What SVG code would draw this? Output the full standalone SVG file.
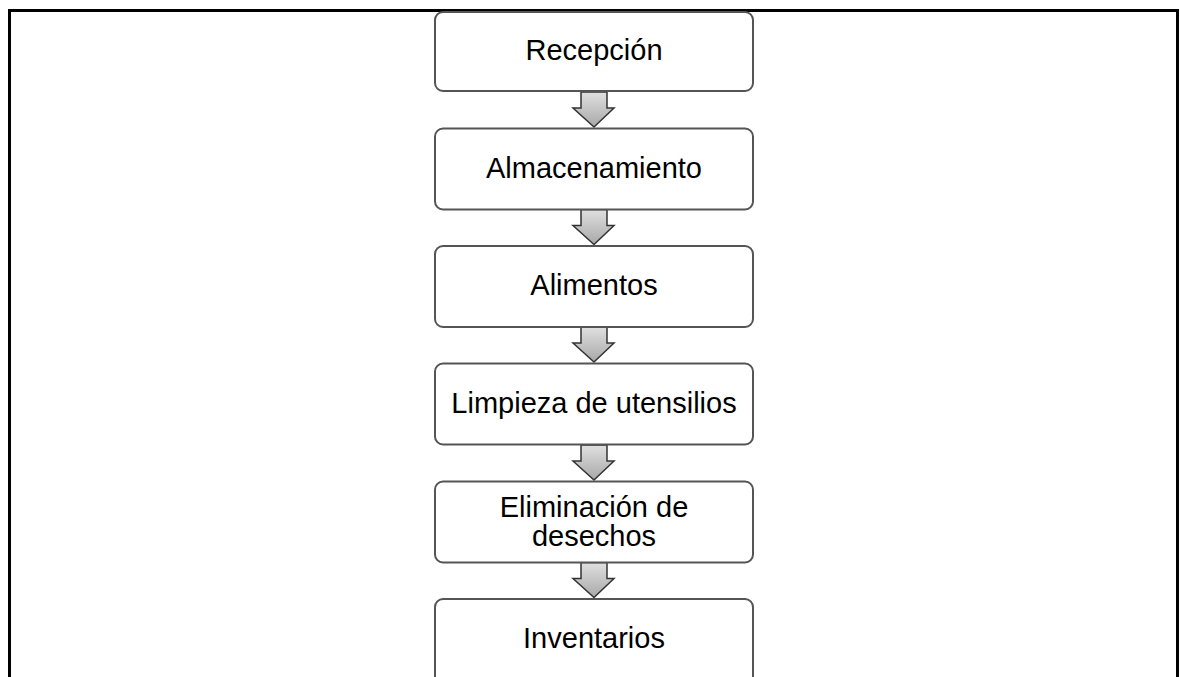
<svg xmlns="http://www.w3.org/2000/svg" width="1180" height="677" viewBox="0 0 1180 677">
<style>
.box{fill:#fff;stroke:#555;stroke-width:2}
.lbl{font-family:"Liberation Sans",Arial,sans-serif;font-size:29px;fill:#000;text-anchor:middle}
.arr{fill:url(#ag);stroke:#333;stroke-width:1.5;stroke-linejoin:miter}
</style>
<defs>
<linearGradient id="ag" x1="0" y1="0" x2="0" y2="1">
<stop offset="0" stop-color="#e0e0e0"/>
<stop offset="1" stop-color="#a8a8a8"/>
</linearGradient>
<path id="arrow" class="arr" d="M581,-36.5 H607 V-20.5 H614 L594,-1.5 L573,-20.5 H581 Z"/>
</defs>
<rect width="1180" height="677" fill="#fff"/>
<path d="M9.5,677 V10.5 H1177.5 V677" fill="none" stroke="#000" stroke-width="3"/>
<g id="connectors">
<use href="#arrow" transform="translate(0,128.5)"/>
<use href="#arrow" transform="translate(0,246)"/>
<use href="#arrow" transform="translate(0,363.5)"/>
<use href="#arrow" transform="translate(0,481.5)"/>
<use href="#arrow" transform="translate(0,599)"/>
</g>
<g id="n1"><rect class="box" x="435" y="12" width="318" height="79" rx="8"/><text class="lbl" x="594" y="59.5">Recepción</text></g>
<g id="n2"><rect class="box" x="435" y="128.5" width="318" height="81" rx="8"/><text class="lbl" x="594" y="177.5">Almacenamiento</text></g>
<g id="n3"><rect class="box" x="435" y="246" width="318" height="81" rx="8"/><text class="lbl" x="594" y="295">Alimentos</text></g>
<g id="n4"><rect class="box" x="435" y="363.5" width="318" height="81" rx="8"/><text class="lbl" x="594" y="413">Limpieza de utensilios</text></g>
<g id="n5"><rect class="box" x="435" y="481.5" width="318" height="81" rx="8"/><text class="lbl" x="594" y="517">Eliminación de</text><text class="lbl" x="594" y="546">desechos</text></g>
<g id="n6"><rect class="box" x="435" y="599" width="318" height="90" rx="8"/><text class="lbl" x="594" y="648">Inventarios</text></g>
</svg>
